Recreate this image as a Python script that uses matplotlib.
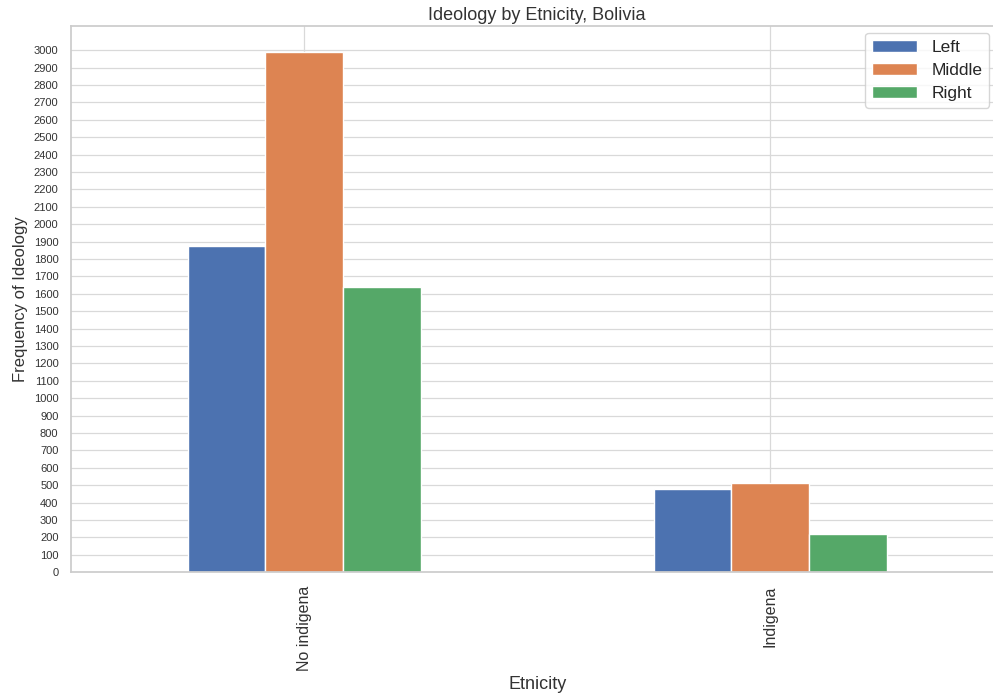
import numpy as np
import matplotlib
matplotlib.use('Agg')
import matplotlib.pyplot as plt
import seaborn as sns

sns.set_theme(style='whitegrid')
plt.rcParams['font.family'] = ['Liberation Sans', 'DejaVu Sans']

etnicity = ['No indigena', 'Indigena']
left     = [1877, 476]
middle   = [2987, 514]
right    = [1637, 219]
series   = [('Left', left), ('Middle', middle), ('Right', right)]
colors   = ['#4C72B0', '#DD8452', '#55A868']

fig = plt.figure(figsize=(9.93, 6.96), dpi=100)
ax = fig.add_axes([0.0715, 0.178, 0.939, 0.785])

x = np.arange(len(etnicity))
w = 0.5 / 3
for i, (name, vals) in enumerate(series):
    ax.bar(x + (i - 1) * w, vals, width=w, color=colors[i],
           edgecolor='white', linewidth=1, label=name)

ax.grid(color='#d9d9d9', linewidth=0.9)
ax.set_xlim(-0.5, 1.5)
ax.set_ylim(0, 3140)
ax.set_yticks(np.arange(0, 3001, 100))
ax.tick_params(axis='y', labelsize=8, pad=3, colors='#333333')
ax.set_xticks(x)
ax.set_xticklabels(etnicity, rotation=90, fontsize=11.5, color='#333333')
ax.set_xlabel('Etnicity', fontsize=13, color='#333333', labelpad=4)
ax.set_ylabel('Frequency of Ideology', fontsize=12, color='#333333', labelpad=4)
ax.set_title('Ideology by Etnicity, Bolivia', fontsize=13, color='#333333', pad=4)
ax.legend(loc='upper right', fontsize=12.5, handlelength=2.6, labelspacing=0.45,
          bbox_to_anchor=(0.994, 1.003))

fig.savefig('out.png', dpi=100)
